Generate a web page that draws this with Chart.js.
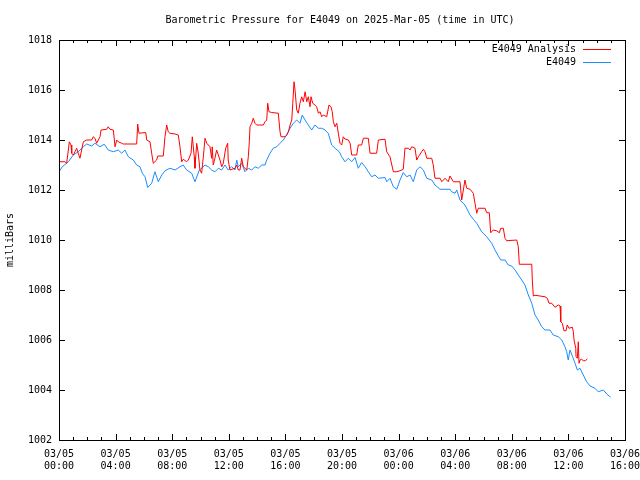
<!DOCTYPE html>
<html>
<head>
<meta charset="utf-8">
<title>Barometric Pressure for E4049</title>
<script src="https://cdn.jsdelivr.net/npm/chart.js@4/dist/chart.umd.min.js"></script>
<style>
  body { margin: 0; background: #fff; }
  canvas { display: block; }
</style>
</head>
<body>
<canvas id="chart" width="640" height="480" style="width:640px;height:480px"></canvas>
<script>
// tempo em horas desde 03/05 00:00 UTC
const obsHoras = [0.00, 0.23, 0.66, 1.01, 1.36, 1.72, 1.96, 2.31, 2.54, 2.90, 3.20, 3.48, 3.84, 4.19, 4.43, 4.66, 4.90, 5.25, 5.49, 5.72,
  5.89, 6.08, 6.27, 6.55, 6.78, 7.02, 7.26, 7.49, 7.84, 8.20, 8.55, 8.78, 9.02, 9.38, 9.61, 9.92, 10.08, 10.32, 10.55, 10.79,
  11.02, 11.26, 11.50, 11.73, 11.96, 12.20, 12.44, 12.56, 12.67, 12.91, 13.14, 13.38, 13.62, 13.85, 14.08, 14.33, 14.56, 14.68, 14.91, 15.14,
  15.39, 15.62, 15.85, 16.09, 16.33, 16.56, 16.80, 17.03, 17.19, 17.39, 17.62, 17.86, 18.09, 18.33, 18.57, 18.80, 19.03, 19.27, 19.51, 19.81,
  19.98, 20.21, 20.45, 20.69, 20.92, 21.15, 21.39, 21.63, 21.86, 22.10, 22.33, 22.57, 23.04, 23.16, 23.39, 23.63, 23.87, 24.10, 24.33, 24.57,
  24.81, 25.04, 25.28, 25.51, 25.75, 25.99, 26.34, 26.57, 26.93, 27.63, 27.75, 27.99, 28.11, 28.34, 28.69, 29.05, 29.28, 29.52, 29.87, 30.23,
  30.58, 30.81, 31.05, 31.22, 31.52, 31.75, 31.99, 32.23, 32.46, 32.70, 32.93, 33.17, 33.41, 33.64, 33.87, 34.11, 34.35, 34.70, 34.93, 35.29,
  35.53, 35.76, 35.88, 35.99, 36.11, 36.30, 36.47, 36.63, 36.82, 37.05, 37.29, 37.53, 37.88, 38.11, 38.47, 38.71, 38.99];
const obsPressao = [1012.73, 1012.93, 1013.13, 1013.40, 1013.53, 1013.73, 1013.84, 1013.76, 1013.87, 1013.73, 1013.83, 1013.60, 1013.53, 1013.60, 1013.47, 1013.60, 1013.33, 1013.20, 1013.00, 1012.93,
  1012.67, 1012.53, 1012.10, 1012.27, 1012.73, 1012.33, 1012.60, 1012.77, 1012.87, 1012.80, 1012.93, 1013.00, 1012.80, 1012.67, 1012.33, 1012.80, 1012.87, 1013.00, 1012.93, 1012.80,
  1012.73, 1012.87, 1012.80, 1013.00, 1012.80, 1012.93, 1012.80, 1013.20, 1012.93, 1013.07, 1012.73, 1012.87, 1012.80, 1012.93, 1012.87, 1013.00, 1013.00, 1013.20, 1013.47, 1013.67,
  1013.73, 1013.87, 1014.00, 1014.20, 1014.47, 1014.67, 1014.80, 1014.67, 1015.00, 1014.80, 1014.60, 1014.40, 1014.60, 1014.47, 1014.47, 1014.40, 1014.27, 1013.80, 1013.67, 1013.53,
  1013.33, 1013.13, 1013.27, 1013.13, 1013.30, 1012.87, 1013.10, 1012.93, 1012.73, 1012.53, 1012.60, 1012.47, 1012.50, 1012.33, 1012.47, 1012.13, 1012.03, 1012.40, 1012.70, 1012.53,
  1012.60, 1012.33, 1012.80, 1012.93, 1012.80, 1012.47, 1012.40, 1012.20, 1012.03, 1012.03, 1011.93, 1011.87, 1012.00, 1011.60, 1011.40, 1011.00, 1010.83, 1010.67, 1010.33, 1010.13,
  1009.87, 1009.60, 1009.36, 1009.20, 1009.20, 1009.00, 1008.96, 1008.80, 1008.60, 1008.40, 1008.20, 1007.80, 1007.47, 1007.00, 1006.80, 1006.53, 1006.40, 1006.40, 1006.20, 1006.13,
  1006.00, 1005.73, 1005.53, 1005.20, 1005.60, 1005.33, 1005.07, 1004.80, 1004.87, 1004.60, 1004.33, 1004.16, 1004.07, 1003.93, 1004.00, 1003.84, 1003.71];

const anaHoras = [0.00, 0.42, 0.54, 0.66, 0.73, 0.85, 0.90, 1.01, 1.13, 1.25, 1.36, 1.48, 1.60, 1.72, 1.96, 2.31, 2.42, 2.54, 2.66, 2.78,
  2.90, 2.97, 3.37, 3.48, 3.60, 3.84, 3.96, 4.08, 4.19, 4.43, 4.54, 5.49, 5.56, 5.65, 6.13, 6.20, 6.43, 6.55, 6.66, 6.90,
  6.98, 7.37, 7.49, 7.61, 7.72, 7.84, 8.20, 8.43, 8.55, 8.67, 8.78, 9.02, 9.14, 9.33, 9.42, 9.56, 9.61, 9.73, 9.84, 9.96,
  10.08, 10.20, 10.32, 10.44, 10.55, 10.67, 10.79, 10.83, 10.90, 11.02, 11.14, 11.26, 11.38, 11.50, 11.61, 11.78, 11.92, 11.96, 12.08, 12.44,
  12.56, 12.67, 12.79, 12.91, 13.03, 13.27, 13.38, 13.45, 13.50, 13.62, 13.73, 13.85, 13.97, 14.44, 14.56, 14.68, 14.75, 14.84, 15.03, 15.50,
  15.62, 15.69, 15.97, 16.09, 16.21, 16.33, 16.45, 16.52, 16.61, 16.68, 16.80, 16.91, 17.03, 17.15, 17.27, 17.39, 17.51, 17.62, 17.74, 17.81,
  17.93, 18.09, 18.21, 18.33, 18.45, 18.57, 18.68, 18.92, 19.08, 19.22, 19.31, 19.39, 19.51, 19.63, 19.74, 19.86, 19.98, 20.09, 20.21, 20.45,
  20.57, 20.69, 21.04, 21.15, 21.39, 21.51, 21.86, 21.98, 22.45, 22.57, 23.04, 23.16, 23.39, 23.63, 23.87, 24.10, 24.33, 24.45, 24.68, 24.81,
  24.93, 25.16, 25.28, 25.40, 25.63, 25.75, 25.87, 25.99, 26.34, 26.45, 26.57, 26.93, 27.05, 27.28, 27.51, 27.63, 27.87, 28.34, 28.46, 28.69,
  28.81, 29.05, 29.28, 29.40, 29.52, 29.63, 30.11, 30.23, 30.41, 30.51, 30.69, 30.93, 31.12, 31.22, 31.40, 31.52, 31.64, 32.35, 32.46, 32.53,
  33.41, 33.45, 33.52, 33.64, 34.35, 34.51, 34.63, 34.82, 35.05, 35.29, 35.41, 35.46, 35.57, 35.69, 35.83, 35.92, 36.04, 36.28, 36.35, 36.40,
  36.52, 36.54, 36.63, 36.70, 36.75, 36.82, 36.94, 37.05, 37.19, 37.34];
const anaPressao = [1013.13, 1013.13, 1013.07, 1013.60, 1013.93, 1013.80, 1013.47, 1013.40, 1013.53, 1013.67, 1013.47, 1013.27, 1013.60, 1013.93, 1014.00, 1014.00, 1014.13, 1014.07, 1013.87, 1014.00,
  1014.13, 1014.40, 1014.43, 1014.53, 1014.43, 1014.40, 1013.73, 1014.00, 1013.93, 1013.87, 1013.84, 1013.84, 1014.64, 1014.27, 1014.30, 1014.00, 1013.93, 1013.47, 1013.07, 1013.20,
  1013.36, 1013.36, 1014.13, 1014.60, 1014.33, 1014.27, 1014.24, 1014.20, 1013.73, 1013.13, 1013.23, 1013.13, 1013.20, 1013.47, 1014.13, 1013.33, 1012.87, 1013.87, 1013.47, 1012.80,
  1012.67, 1013.33, 1014.07, 1013.87, 1013.80, 1013.73, 1013.27, 1013.73, 1013.00, 1013.27, 1013.60, 1013.40, 1013.20, 1012.93, 1013.07, 1013.67, 1013.87, 1013.20, 1012.80, 1012.87,
  1013.00, 1012.80, 1012.80, 1013.27, 1012.93, 1012.80, 1013.33, 1013.93, 1014.53, 1014.67, 1014.87, 1014.67, 1014.60, 1014.60, 1014.73, 1014.80, 1015.47, 1015.13, 1015.10, 1015.07,
  1014.33, 1014.13, 1014.13, 1014.20, 1014.33, 1014.60, 1014.80, 1015.47, 1016.33, 1016.00, 1015.20, 1015.07, 1015.47, 1015.73, 1015.53, 1015.93, 1015.53, 1015.73, 1015.33, 1015.73,
  1015.47, 1015.40, 1015.33, 1015.07, 1015.13, 1014.93, 1015.00, 1014.93, 1015.40, 1015.33, 1015.13, 1014.73, 1014.53, 1014.67, 1014.27, 1013.87, 1013.80, 1014.13, 1014.04, 1014.00,
  1013.87, 1013.40, 1013.40, 1013.80, 1013.80, 1014.07, 1014.07, 1013.47, 1013.47, 1014.00, 1014.03, 1013.53, 1013.33, 1012.73, 1012.73, 1012.77, 1012.83, 1013.67, 1013.67, 1013.60,
  1013.73, 1013.67, 1013.20, 1013.33, 1013.53, 1013.63, 1013.53, 1013.27, 1013.27, 1013.00, 1012.47, 1012.47, 1012.33, 1012.47, 1012.33, 1012.56, 1012.33, 1012.33, 1011.60, 1012.40,
  1012.07, 1012.03, 1011.87, 1011.47, 1011.07, 1011.27, 1011.27, 1011.09, 1011.09, 1010.29, 1010.40, 1010.37, 1010.29, 1010.47, 1010.47, 1010.07, 1009.97, 1010.00, 1009.73, 1009.03,
  1009.03, 1008.40, 1007.76, 1007.79, 1007.73, 1007.67, 1007.47, 1007.47, 1007.31, 1007.40, 1007.36, 1006.73, 1006.67, 1006.37, 1006.37, 1006.60, 1006.47, 1006.51, 1006.33, 1006.00,
  1005.67, 1005.33, 1005.27, 1005.93, 1005.07, 1005.20, 1005.23, 1005.17, 1005.17, 1005.24];

const rotulosX = ["03/05 00:00", "03/05 04:00", "03/05 08:00", "03/05 12:00", "03/05 16:00", "03/05 20:00",
  "03/06 00:00", "03/06 04:00", "03/06 08:00", "03/06 12:00", "03/06 16:00"];
const rotulosY = [1002, 1004, 1006, 1008, 1010, 1012, 1014, 1016, 1018];

const fonte = { family: "'DejaVu Sans Mono', monospace", size: 10 };

function pontos(horas, valores) {
  return horas.map((h, i) => ({ x: h, y: valores[i] }));
}

// moldura, marcas internas e legenda no estilo gnuplot
const moldura = {
  id: 'moldura',
  afterDraw(chart) {
    const c = chart.ctx;
    const a = chart.chartArea;
    const sx = chart.scales.x, sy = chart.scales.y;
    c.save();
    c.strokeStyle = '#000';
    c.lineWidth = 1;
    c.beginPath();
    for (let h = 0; h <= 40; h++) {
      const px = Math.round(sx.getPixelForValue(h)) + 0.5;
      const len = h % 4 === 0 ? 6 : 3;
      c.moveTo(px, a.bottom); c.lineTo(px, a.bottom - len);
      c.moveTo(px, a.top); c.lineTo(px, a.top + len);
    }
    rotulosY.forEach(v => {
      const py = Math.round(sy.getPixelForValue(v)) + 0.5;
      c.moveTo(a.left, py); c.lineTo(a.left + 6, py);
      c.moveTo(a.right, py); c.lineTo(a.right - 6, py);
    });
    c.stroke();
    c.strokeRect(Math.round(a.left) + 0.5, Math.round(a.top) + 0.5,
      Math.round(a.right - a.left), Math.round(a.bottom - a.top));

    // título
    c.fillStyle = '#000';
    c.font = "10px 'DejaVu Sans Mono', monospace";
    c.textAlign = 'center';
    c.textBaseline = 'middle';
    c.fillText('Barometric Pressure for E4049 on 2025-Mar-05 (time in UTC)', (a.left + a.right) / 2 - 2, 20);

    // legenda
    c.textAlign = 'right';
    chart.data.datasets.forEach((ds, i) => {
      const y = 49 + i * 13;
      c.fillStyle = '#000';
      c.fillText(ds.label, a.right - 49, y);
      c.strokeStyle = ds.borderColor;
      c.beginPath();
      c.moveTo(a.right - 42, y + 0.5);
      c.lineTo(a.right - 14, y + 0.5);
      c.stroke();
    });
    c.restore();
  }
};

const ctx = document.getElementById('chart').getContext('2d');
new Chart(ctx, {
  type: 'line',
  data: {
    datasets: [
      {
        label: 'E4049 Analysis',
        data: pontos(anaHoras, anaPressao),
        borderColor: '#ff0000',
        borderWidth: 1,
        pointRadius: 0,
        tension: 0,
        fill: false
      },
      {
        label: 'E4049',
        data: pontos(obsHoras, obsPressao),
        borderColor: '#1a8cff',
        borderWidth: 1,
        pointRadius: 0,
        tension: 0,
        fill: false
      }
    ]
  },
  options: {
    responsive: false,
    animation: false,
    devicePixelRatio: 1,
    layout: { padding: { top: 40, right: 15, left: 0, bottom: 0 } },
    plugins: {
      legend: { display: false },
      title: { display: false },
      tooltip: { enabled: false }
    },
    scales: {
      x: {
        type: 'linear',
        min: 0,
        max: 40,
        afterFit: s => { s.height = 40; s.paddingLeft = 0; s.paddingRight = 0; },
        grid: { display: false, drawTicks: false },
        border: { display: false },
        ticks: {
          stepSize: 4,
          autoSkip: false,
          maxRotation: 0,
          padding: 8,
          color: '#000',
          font: { family: fonte.family, size: 10, lineHeight: 1.25 },
          callback: (v, i) => rotulosX[i] ? rotulosX[i].split(' ') : ''
        }
      },
      y: {
        min: 1002,
        max: 1018,
        afterFit: s => { s.width = 59; },
        grid: { display: false, drawTicks: false },
        border: { display: false },
        ticks: {
          stepSize: 2,
          padding: 7,
          color: '#000',
          font: fonte,
          callback: v => String(v)
        },
        title: {
          display: true,
          text: 'milliBars',
          color: '#000',
          font: fonte,
          padding: 4
        }
      }
    }
  },
  plugins: [moldura]
});
</script>
</body>
</html>
